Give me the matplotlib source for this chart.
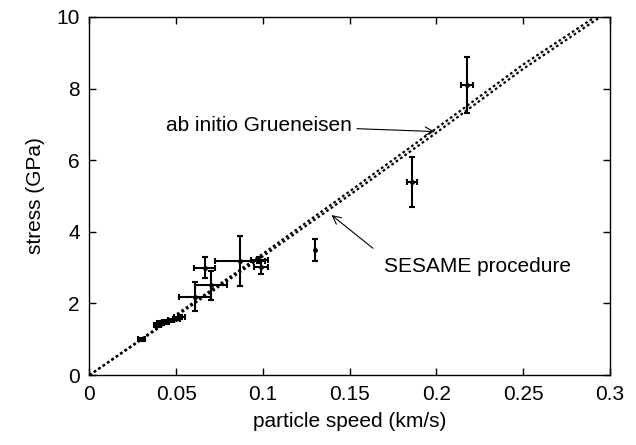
import matplotlib
matplotlib.use("Agg")
import matplotlib.pyplot as plt

plt.rcParams['font.family'] = ['Liberation Sans', 'DejaVu Sans']

# Lines
line_ab_x = [0.0, 0.05, 0.10, 0.15, 0.20, 0.25, 0.2915]
line_ab_y = [0.0, 1.69, 3.39, 5.13, 6.89, 8.67, 10.0]
line_ses_x = [0.0, 0.05, 0.10, 0.15, 0.20, 0.25, 0.2945]
line_ses_y = [0.0, 1.65, 3.32, 5.03, 6.77, 8.55, 10.0]

# Experimental points with error bars
pt_x = [0.030, 0.039, 0.041, 0.044, 0.047, 0.050, 0.052,
        0.0608, 0.0665, 0.0698, 0.0867, 0.098, 0.099, 0.130, 0.186, 0.2175]
pt_y = [1.00, 1.40, 1.45, 1.48, 1.53, 1.58, 1.62,
        2.19, 3.00, 2.51, 3.19, 3.22, 3.02, 3.49, 5.38, 8.10]
pt_xerr = [0.002, 0.002, 0.002, 0.002, 0.002, 0.002, 0.003,
           0.0092, 0.006, 0.0092, 0.0145, 0.005, 0.004, 0.0, 0.0027, 0.0033]
pt_yerr = [0.04, 0.05, 0.05, 0.05, 0.05, 0.05, 0.06,
           0.40, 0.30, 0.40, 0.70, 0.08, 0.20, 0.31, 0.70, 0.78]

xticks = [0, 0.05, 0.1, 0.15, 0.2, 0.25, 0.3]
xticklabels = ["0", "0.05", "0.1", "0.15", "0.2", "0.25", "0.3"]
yticks = [0, 2, 4, 6, 8, 10]

fig = plt.figure(figsize=(6.36, 4.45), dpi=100)
ax = fig.add_axes([0.1407, 0.157, 0.959 - 0.1407, 0.962 - 0.157])

ax.plot(line_ab_x, line_ab_y, color='black', lw=1.6, linestyle=(0, (1.2, 1.2)))
ax.plot(line_ses_x, line_ses_y, color='black', lw=1.6, linestyle=(0, (1.2, 1.2)))

ax.errorbar(pt_x, pt_y, xerr=pt_xerr, yerr=pt_yerr, fmt='o', color='black',
            ms=2.5, elinewidth=1.5, capsize=2.5, capthick=1.5)

fs = 15
ax.annotate("ab initio Grueneisen", xy=(0.199, 6.80), xytext=(0.151, 6.98),
            ha='right', va='center', fontsize=fs,
            arrowprops=dict(arrowstyle='->', color='black', lw=0.8,
                            shrinkA=2, shrinkB=0))
ax.annotate("SESAME procedure", xy=(0.1395, 4.47), xytext=(0.170, 3.02),
            ha='left', va='center', fontsize=fs,
            arrowprops=dict(arrowstyle='->', color='black', lw=0.8,
                            shrinkA=8, shrinkB=0,
                            relpos=(0, 1)))

ax.set_xlim(0, 0.3)
ax.set_ylim(0, 10)
ax.set_xticks(xticks)
ax.set_xticklabels(xticklabels)
ax.set_yticks(yticks)
ax.tick_params(direction='in', length=5, width=1, top=True, right=True,
               labelsize=fs, pad=7)
for s in ax.spines.values():
    s.set_linewidth(1)
ax.set_xlabel("particle speed (km/s)", fontsize=fs, labelpad=6)
ax.set_ylabel("stress (GPa)", fontsize=fs, labelpad=8)

fig.savefig("out.png", dpi=100)
